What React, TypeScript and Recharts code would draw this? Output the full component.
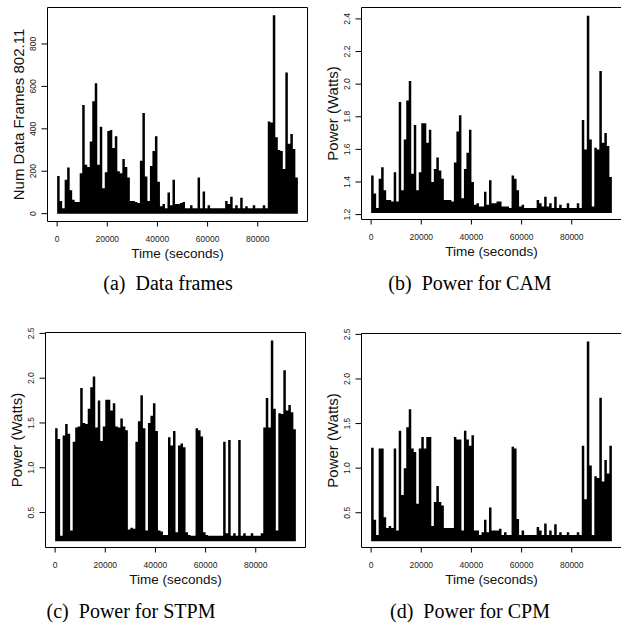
import React from 'react';
import { ComposedChart, Area, XAxis, YAxis, ReferenceArea } from 'recharts';

// each value is the peak inside one 1000-second bin
const BIN_SECONDS = 1000;

const dataFrames = [
  178, 60, 25, 160, 218, 110, 65, 55, 55, 190,
  512, 230, 220, 340, 530, 615, 230, 410, 120, 195,
  390, 395, 310, 365, 200, 190, 258, 220, 170, 60,
  60, 55, 50, 250, 475, 175, 60, 225, 295, 365,
  150, 35, 45, 25, 100, 40, 160, 45, 45, 50,
  55, 25, 25, 40, 25, 25, 170, 25, 105, 25,
  40, 25, 25, 25, 25, 25, 25, 60, 45, 80,
  25, 40, 25, 75, 25, 35, 25, 25, 40, 25,
  25, 25, 40, 25, 435, 430, 935, 360, 300, 295,
  210, 665, 330, 375, 305, 170,
];

const powerCAM = [
  1.44, 1.33, 1.24, 1.42, 1.49, 1.35, 1.29, 1.29, 1.28, 1.46,
  1.28, 1.89, 1.35, 1.66, 1.9, 2.02, 1.45, 1.75, 1.35, 1.46,
  1.76, 1.76, 1.64, 1.72, 1.4, 1.48, 1.55, 1.47, 1.42, 1.29,
  1.29, 1.29, 1.28, 1.52, 1.71, 1.81, 1.3, 1.48, 1.58, 1.72,
  1.4, 1.26, 1.27, 1.25, 1.25, 1.34, 1.26, 1.41, 1.27, 1.27,
  1.28, 1.28, 1.25, 1.25, 1.25, 1.24, 1.44, 1.42, 1.35, 1.25,
  1.26, 1.24, 1.24, 1.24, 1.24, 1.24, 1.29, 1.27, 1.25, 1.31,
  1.25, 1.27, 1.24, 1.31, 1.24, 1.26, 1.24, 1.24, 1.27, 1.24,
  1.24, 1.24, 1.27, 1.24, 1.78, 1.6, 2.42, 1.66, 1.25, 1.61,
  1.6, 2.08, 1.64, 1.7, 1.62, 1.43,
];

const powerSTPM = [
  1.44, 1.32, 0.24, 1.36, 1.49, 1.38, 0.3, 1.29, 1.45, 1.46,
  1.89, 1.5, 1.49, 1.66, 1.9, 2.02, 1.45, 1.75, 1.3, 1.46,
  1.76, 1.76, 1.64, 1.72, 1.46, 1.45, 1.55, 1.46, 1.42, 0.31,
  0.33, 0.32, 1.29, 1.52, 1.81, 1.44, 0.3, 1.5, 1.58, 1.72,
  1.41, 0.3, 0.29, 0.25, 0.25, 1.34, 1.25, 1.41, 0.28, 1.25,
  1.27, 1.23, 0.28, 0.25, 0.24, 0.24, 1.44, 1.42, 1.35, 0.28,
  0.25, 0.24, 0.24, 0.24, 0.24, 0.24, 0.24, 1.29, 0.27, 1.31,
  0.24, 0.27, 0.24, 1.31, 0.24, 0.27, 0.24, 0.24, 0.27, 0.24,
  0.24, 0.24, 0.27, 1.45, 1.78, 1.45, 2.42, 1.66, 0.3, 1.61,
  1.6, 2.09, 1.64, 1.7, 1.62, 1.43,
];

const powerCPM = [
  1.23, 0.42, 0.25, 1.22, 1.22, 0.45, 0.33, 0.35, 0.33, 1.22,
  0.3, 1.42, 0.7, 1.0, 1.46, 1.66, 1.22, 1.18, 0.6, 1.22,
  1.35, 1.22, 1.35, 1.35, 0.35, 0.62, 0.8, 0.62, 0.58, 0.33,
  0.33, 0.33, 0.33, 1.35, 1.32, 1.32, 0.3, 1.42, 1.32, 1.25,
  1.37, 0.3, 0.3, 0.25, 0.28, 0.42, 0.28, 0.56, 0.3, 0.3,
  0.3, 0.32, 0.25, 0.28, 0.25, 0.25, 1.24, 1.22, 0.43, 0.25,
  0.3, 0.25, 0.25, 0.25, 0.25, 0.25, 0.34, 0.3, 0.25, 0.38,
  0.25, 0.3, 0.25, 0.37, 0.25, 0.28, 0.25, 0.25, 0.28, 0.25,
  0.25, 0.25, 0.28, 0.25, 1.25, 0.65, 2.42, 1.03, 0.25, 0.91,
  0.89, 1.79, 0.85, 1.09, 0.94, 1.25,
];

const timeTicks = [0, 20000, 40000, 60000, 80000];
const framesTicks = [0, 200, 400, 600, 800];
const camTicks = [1.2, 1.4, 1.6, 1.8, 2.0, 2.2, 2.4];
const powerTicks = [0.5, 1.0, 1.5, 2.0, 2.5];

const X_DOMAIN: [number, number] = [-3840, 99840];
const SANS = '"Liberation Sans", Arial, Helvetica, sans-serif';
const SERIF = '"Liberation Serif", "Times New Roman", serif';

const rows = dataFrames.map((v, i) => ({
  t: i * BIN_SECONDS,
  frames: v,
  cam: powerCAM[i],
  stpm: powerSTPM[i],
  cpm: powerCPM[i],
}));
// close the last step
rows.push({ ...rows[rows.length - 1], t: rows.length * BIN_SECONDS });

const RotTick = (props: any) => {
  const { x, y, payload, fmt } = props;
  return (
    <text
      x={x}
      y={y}
      transform={`rotate(-90 ${x} ${y})`}
      textAnchor="middle"
      fontSize={8.5}
      fontFamily={SANS}
      fill="#222"
    >
      {fmt(payload.value)}
    </text>
  );
};

const XTitle = (props: any) => {
  const vb = props.viewBox;
  return (
    <text x={vb.x + vb.width / 2} y={vb.y + 36.5} textAnchor="middle" fontSize={13.5} fontFamily={SANS} fill="#111">
      Time (seconds)
    </text>
  );
};

const makeYTitle = (text: string) => (props: any) => {
  const vb = props.viewBox;
  const x = vb.x + vb.width - 24;
  const y = vb.y + vb.height / 2;
  return (
    <text x={x} y={y} transform={`rotate(-90 ${x} ${y})`} textAnchor="middle" fontSize={15} fontFamily={SANS} fill="#111">
      {text}
    </text>
  );
};

interface PanelProps {
  left: number;
  top: number;
  axisW: number;
  padTop: number;
  plotH: number;
  dataKey: string;
  yDomain: [number, number];
  yTicks: number[];
  floor: number;
  yLabel: string;
  fmt: (v: number) => string;
}

function Panel({ left, top, axisW, padTop, plotH, dataKey, yDomain, yTicks, floor, yLabel, fmt }: PanelProps) {
  const width = axisW + 262;
  const height = padTop + plotH + 40;
  return (
    <div style={{ position: 'absolute', left, top }}>
      <ComposedChart width={width} height={height} data={rows} margin={{ top: padTop, right: 2, bottom: 0, left: 0 }}>
        <XAxis
          dataKey="t"
          type="number"
          domain={X_DOMAIN}
          ticks={timeTicks}
          interval={0}
          allowDataOverflow
          height={40}
          axisLine={false}
          tickSize={5}
          tickMargin={9.5}
          tickLine={{ stroke: '#000' }}
          tick={{ fontSize: 8.5, fill: '#222', fontFamily: SANS }}
          label={{ content: XTitle }}
        />
        <YAxis
          type="number"
          domain={yDomain}
          ticks={yTicks}
          interval={0}
          allowDataOverflow
          width={axisW}
          axisLine={false}
          tickSize={6}
          tickMargin={5.5}
          tickLine={{ stroke: '#000' }}
          tick={<RotTick fmt={fmt} />}
          label={{ content: makeYTitle(yLabel) }}
        />
        <Area
          type="stepAfter"
          dataKey={dataKey}
          baseValue={floor}
          fill="#000"
          fillOpacity={1}
          stroke="none"
          dot={false}
          activeDot={false}
          isAnimationActive={false}
        />
        <ReferenceArea
          x1={X_DOMAIN[0]}
          x2={X_DOMAIN[1]}
          y1={yDomain[0]}
          y2={yDomain[1]}
          fill="none"
          stroke="#000"
          strokeWidth={1}
          ifOverflow="visible"
        />
      </ComposedChart>
    </div>
  );
}

const Caption = ({ cx, top, children }: { cx: number; top: number; children: React.ReactNode }) => (
  <div
    style={{
      position: 'absolute',
      left: cx - 150,
      top,
      width: 300,
      textAlign: 'center',
      fontFamily: SERIF,
      fontSize: 20,
      lineHeight: '20px',
      color: '#000',
      whiteSpace: 'nowrap',
    }}
  >
    {children}
  </div>
);

const intFmt = (v: number) => String(v);
const oneDec = (v: number) => v.toFixed(1);

export default function App() {
  return (
    <div style={{ position: 'absolute', left: 0, top: 0, width: 621, height: 629, overflow: 'hidden', background: '#fff' }}>
      <Panel left={0} top={0} axisW={47.5} padTop={7.5} plotH={214} dataKey="frames" yDomain={[-37, 972]} yTicks={framesTicks} floor={0} yLabel="Num Data Frames 802.11" fmt={intFmt} />
      <Panel left={314} top={0} axisW={47.5} padTop={7.5} plotH={212} dataKey="cam" yDomain={[1.17, 2.47]} yTicks={camTicks} floor={1.21} yLabel="Power (Watts)" fmt={oneDec} />
      <Panel left={0} top={326} axisW={45.5} padTop={6.5} plotH={215} dataKey="stpm" yDomain={[0.11, 2.51]} yTicks={powerTicks} floor={0.18} yLabel="Power (Watts)" fmt={oneDec} />
      <Panel left={314} top={326} axisW={47.5} padTop={7.5} plotH={214} dataKey="cpm" yDomain={[0.11, 2.51]} yTicks={powerTicks} floor={0.18} yLabel="Power (Watts)" fmt={oneDec} />
      <Caption cx={168} top={273}>(a)&ensp;Data frames</Caption>
      <Caption cx={470} top={273}>(b)&ensp;Power for CAM</Caption>
      <Caption cx={131} top={601}>(c)&ensp;Power for STPM</Caption>
      <Caption cx={470} top={601}>(d)&ensp;Power for CPM</Caption>
    </div>
  );
}
